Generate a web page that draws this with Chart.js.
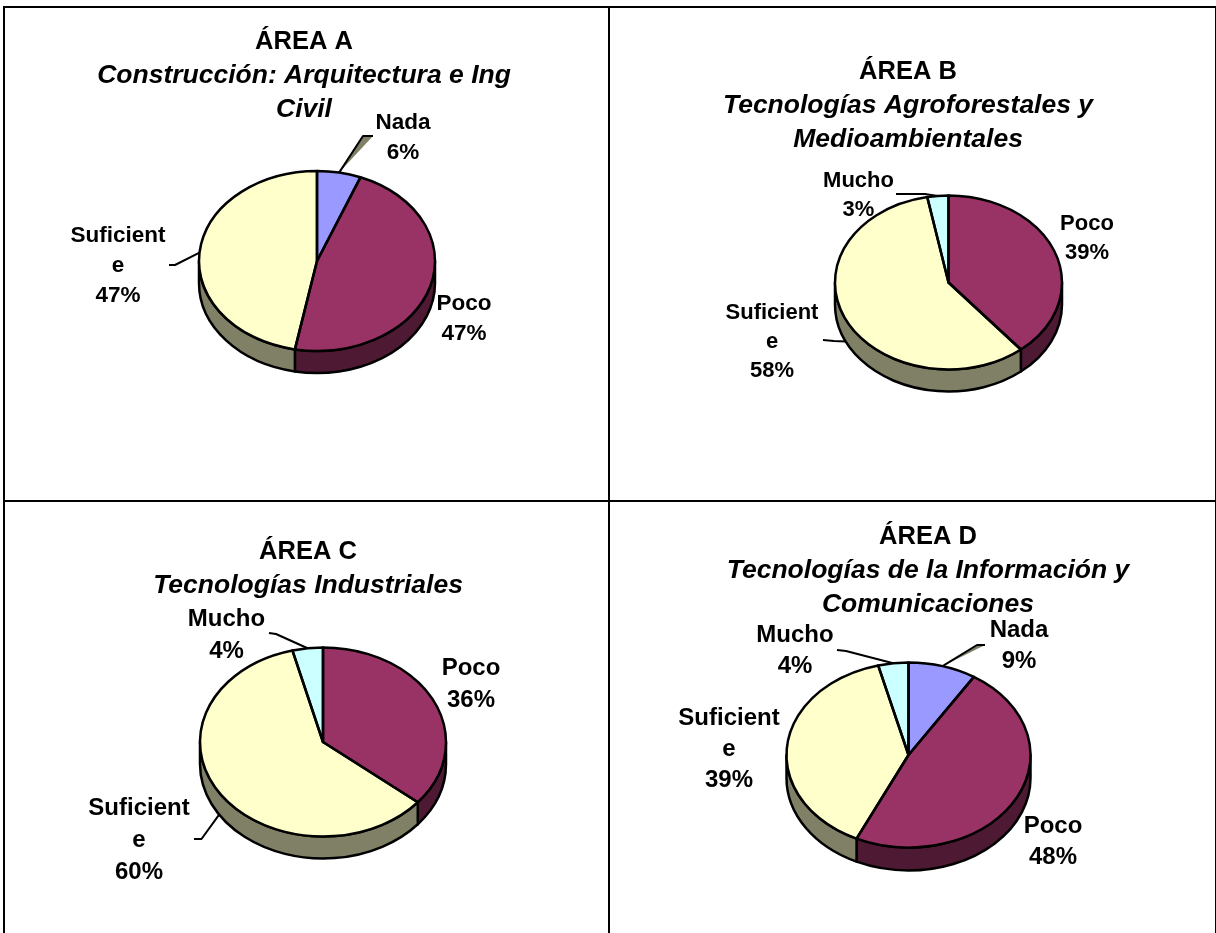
<!DOCTYPE html>
<html>
<head>
<meta charset="utf-8">
<title>Áreas</title>
<script src="https://cdn.jsdelivr.net/npm/chart.js@4/dist/chart.umd.min.js"></script>
<style>
    html, body { margin: 0; padding: 0; background: #fff; }
    #sheet { position: relative; width: 1216px; height: 933px; overflow: hidden; }
    #sheet canvas { position: absolute; }
    .rule { position: absolute; background: #000; }
</style>
</head>
<body>
<div id="sheet"></div>
<script>
// --- Data ---
const categoriesA = ['Nada', 'Poco', 'Suficiente'];
const valuesA = [6, 47, 47];
const titleA = ['ÁREA A', 'Construcción: Arquitectura e Ing', 'Civil'];

const categoriesB = ['Poco', 'Suficiente', 'Mucho'];
const valuesB = [39, 58, 3];
const titleB = ['ÁREA B', 'Tecnologías Agroforestales y', 'Medioambientales'];

const categoriesC = ['Poco', 'Suficiente', 'Mucho'];
const valuesC = [36, 60, 4];
const titleC = ['ÁREA C', 'Tecnologías Industriales'];

const categoriesD = ['Nada', 'Poco', 'Suficiente', 'Mucho'];
const valuesD = [9, 48, 39, 4];
const titleD = ['ÁREA D', 'Tecnologías de la Información y', 'Comunicaciones'];

// --- Colours per category ---
const topColors = { Nada: '#9999FF', Poco: '#993366', Suficiente: '#FFFFCC', Mucho: '#CCFFFF' };
const sideColors = { Nada: '#4D4D80', Poco: '#4D1933', Suficiente: '#808066', Mucho: '#668080' };

// --- Layout (page pixels) ---
const FONT = '"Liberation Sans", Arial, sans-serif';
const OUTLINE = 2.5;
const HEAD_SIZE = 25.5;
const SUB_SIZE = 26.5;

const panels = [
    {
        box: [0, 0, 610, 500], cats: categoriesA, vals: valuesA, title: titleA,
        pie: { cx: 317, cy: 261, rx: 118, ry: 90, depth: 22 },
        titleX: 304, titleY: 42, titleStep: 34, labelSize: 22.5, labelStep: 30,
        labels: { Nada: [403, 123], Poco: [464, 304], Suficiente: [118, 236] },
        leaders: { Nada: [[363, 136], [373, 136]], Suficiente: [[175, 265], [169, 265]] }
    },
    {
        box: [610, 0, 606, 500], cats: categoriesB, vals: valuesB, title: titleB,
        pie: { cx: 948.5, cy: 282.5, rx: 113.5, ry: 87, depth: 22 },
        titleX: 908, titleY: 72, titleStep: 34, labelSize: 22, labelStep: 29,
        labels: { Mucho: [858.5, 181], Poco: [1087, 224], Suficiente: [772, 313] },
        leaders: { Mucho: [[925, 194], [896, 194]], Suficiente: [[834, 341], [823, 340]] }
    },
    {
        box: [0, 500, 610, 433], cats: categoriesC, vals: valuesC, title: titleC,
        pie: { cx: 323, cy: 742, rx: 123, ry: 94.5, depth: 22 },
        titleX: 308, titleY: 552, titleStep: 34, labelSize: 24, labelStep: 32,
        labels: { Mucho: [226.5, 619], Poco: [471, 668], Suficiente: [139, 808] },
        leaders: { Mucho: [[276, 634], [269, 633]], Suficiente: [[201.5, 839], [194, 839]] }
    },
    {
        box: [610, 500, 606, 433], cats: categoriesD, vals: valuesD, title: titleD,
        pie: { cx: 908.5, cy: 755, rx: 122, ry: 92.5, depth: 23 },
        titleX: 928, titleY: 537, titleStep: 34, labelSize: 24, labelStep: 31,
        labels: { Nada: [1019, 630], Mucho: [795, 635], Poco: [1053, 826], Suficiente: [729, 718] },
        leaders: { Nada: [[977, 645], [985, 645]], Mucho: [[846, 651], [837, 650]] }
    }
];

// x, y, w, h of the table rules
const rules = [
    [3, 6, 1213, 2],
    [3, 6, 2, 927],
    [608, 6, 2, 927],
    [1215, 6, 2, 927],
    [3, 500, 1213, 2]
];

// --- Plugin: squashes the pie into an ellipse and adds the 3D wall, outlines, labels ---
const pie3d = {
    id: 'pie3d',
    beforeDatasetsDraw(chart, args, opts) {
        const { ctx } = chart;
        const arcs = chart.getDatasetMeta(0).data;
        const { rx, ry, depth } = opts.pie;
        const cx = arcs[0].x, cy = arcs[0].y;

        ctx.save();
        ctx.lineWidth = OUTLINE;
        ctx.lineJoin = 'round';
        ctx.strokeStyle = '#000';
        arcs.forEach((arc, i) => {
            // only the front half (0..PI on canvas) shows a wall
            const a0 = Math.max(arc.startAngle, 0);
            const a1 = Math.min(arc.endAngle, Math.PI);
            if (a1 <= a0) return;
            ctx.beginPath();
            ctx.ellipse(cx, cy + depth, rx, ry, 0, a0, a1);
            ctx.ellipse(cx, cy, rx, ry, 0, a1, a0, true);
            ctx.closePath();
            ctx.fillStyle = sideColors[opts.cats[i]];
            ctx.fill();
            ctx.stroke();
        });
        ctx.restore();

        ctx.save();
        ctx.translate(cx, cy);
        ctx.scale(1, ry / rx);
        ctx.translate(-cx, -cy);
    },
    afterDatasetsDraw(chart, args, opts) {
        const { ctx } = chart;
        ctx.restore();

        const arcs = chart.getDatasetMeta(0).data;
        const { rx, ry, depth } = opts.pie;
        const cx = arcs[0].x, cy = arcs[0].y;
        const [ox, oy] = opts.origin;

        ctx.save();
        ctx.lineWidth = OUTLINE;
        ctx.lineJoin = 'round';
        ctx.strokeStyle = '#000';
        arcs.forEach(arc => {
            ctx.beginPath();
            ctx.moveTo(cx, cy);
            ctx.ellipse(cx, cy, rx, ry, 0, arc.startAngle, arc.endAngle);
            ctx.closePath();
            ctx.stroke();
        });

        // leader lines start on the rim at the middle of the slice
        ctx.lineWidth = 2;
        arcs.forEach((arc, i) => {
            const cat = opts.cats[i];
            const pts = opts.leaders[cat];
            if (!pts) return;
            const mid = (arc.startAngle + arc.endAngle) / 2;
            const front = Math.sin(mid) > 0;
            const sx = cx + rx * Math.cos(mid), sy = cy + ry * Math.sin(mid) + (front ? depth : 0);
            if (cat === 'Nada') {
                // the Nada leaders carry a grey sliver in the elbow
                ctx.beginPath();
                ctx.moveTo(sx, sy);
                pts.forEach(p => ctx.lineTo(p[0] - ox, p[1] - oy));
                ctx.closePath();
                ctx.fillStyle = '#808066';
                ctx.fill();
            }
            ctx.beginPath();
            ctx.moveTo(sx, sy);
            pts.forEach(p => ctx.lineTo(p[0] - ox, p[1] - oy));
            ctx.stroke();
        });

        // category labels
        ctx.fillStyle = '#000';
        ctx.textAlign = 'center';
        ctx.textBaseline = 'middle';
        ctx.font = `bold ${opts.labelSize}px ${FONT}`;
        opts.cats.forEach((cat, i) => {
            const pos = opts.labels[cat];
            // the source wraps long names at nine letters
            const lines = cat.length > 9 ? [cat.slice(0, 9), cat.slice(9)] : [cat];
            lines.push(chart.data.datasets[0].data[i] + '%');
            lines.forEach((t, n) => ctx.fillText(t, pos[0] - ox, pos[1] - oy + n * opts.labelStep));
        });

        // title: first line bold, the others bold italic
        opts.title.forEach((t, n) => {
            ctx.font = n ? `italic bold ${SUB_SIZE}px ${FONT}` : `bold ${HEAD_SIZE}px ${FONT}`;
            ctx.fillText(t, opts.titleX - ox, opts.titleY - oy + n * opts.titleStep);
        });
        ctx.restore();
    }
};

function buildPanel(p) {
    const sheet = document.getElementById('sheet');
    const [x, y, w, h] = p.box;
    const canvas = document.createElement('canvas');
    canvas.width = w;
    canvas.height = h;
    canvas.style.left = x + 'px';
    canvas.style.top = y + 'px';
    sheet.appendChild(canvas);

    // keep the chart area centred on the pie
    const cx = p.pie.cx - x, cy = p.pie.cy - y;
    const halfW = Math.min(cx, w - cx), halfH = Math.min(cy, h - cy);

    new Chart(canvas.getContext('2d'), {
        type: 'pie',
        data: {
            labels: p.cats,
            datasets: [{
                data: p.vals,
                backgroundColor: p.cats.map(c => topColors[c]),
                borderWidth: 0,
                clip: false
            }]
        },
        options: {
            responsive: false,
            animation: false,
            radius: p.pie.rx,
            layout: {
                padding: {
                    left: cx - halfW,
                    right: w - cx - halfW,
                    top: cy - halfH,
                    bottom: h - cy - halfH
                }
            },
            plugins: {
                legend: { display: false },
                tooltip: { enabled: false },
                pie3d: {
                    pie: p.pie, cats: p.cats, origin: [x, y], title: p.title,
                    titleX: p.titleX, titleY: p.titleY, titleStep: p.titleStep,
                    labelSize: p.labelSize, labelStep: p.labelStep,
                    labels: p.labels, leaders: p.leaders
                }
            }
        },
        plugins: [pie3d]
    });
}

panels.forEach(buildPanel);

rules.forEach(r => {
    const d = document.createElement('div');
    d.className = 'rule';
    d.style.cssText = `left:${r[0]}px;top:${r[1]}px;width:${r[2]}px;height:${r[3]}px`;
    document.getElementById('sheet').appendChild(d);
});
</script>
</body>
</html>
